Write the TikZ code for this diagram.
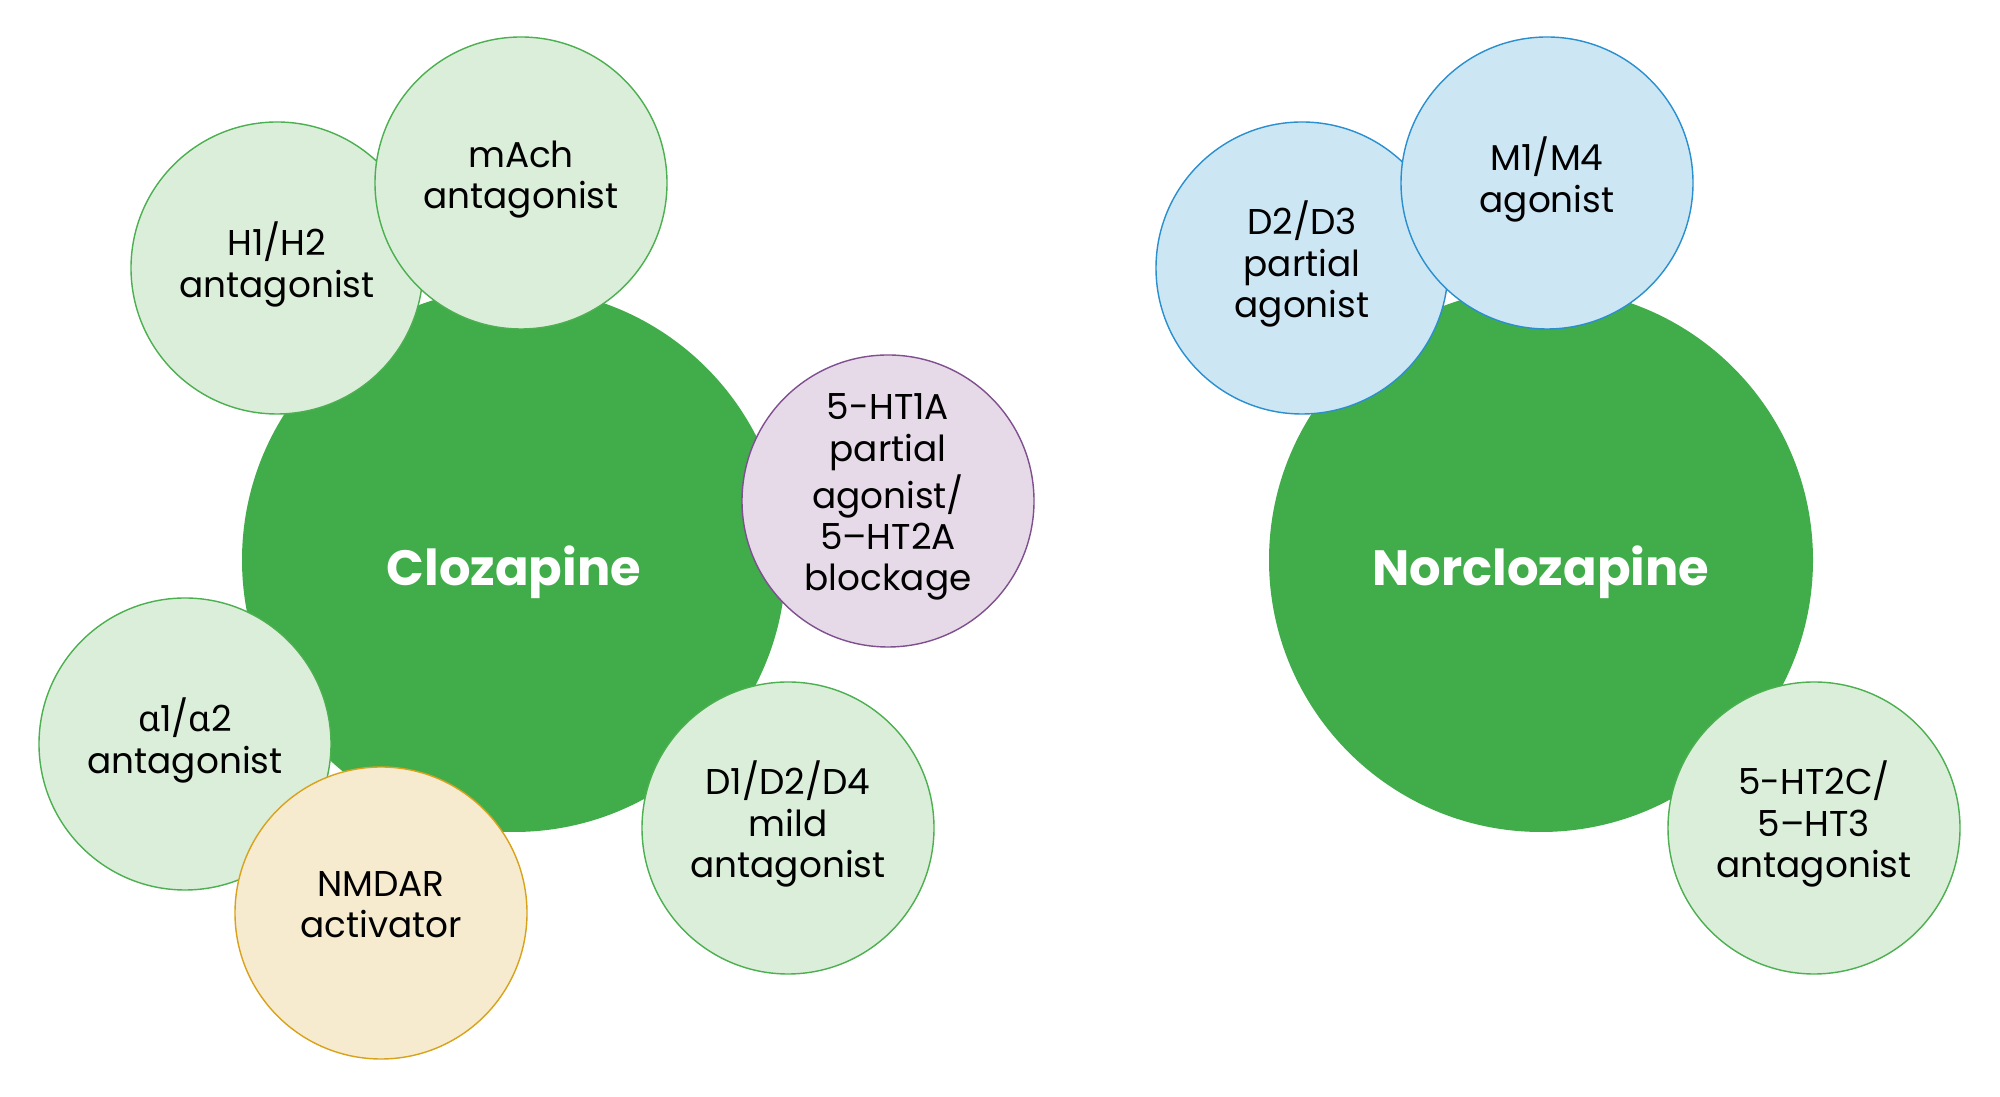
\documentclass[tikz,border=0pt]{standalone}
\usepackage{fontspec}
\setmainfont{Poppins}
\newfontfamily\greekfont{Noto Sans}
\usetikzlibrary{positioning,shapes}
\definecolor{mainGreen}{HTML}{41AD4A}
\definecolor{lightGreen}{HTML}{DAEEDA}
\definecolor{lineGreen}{HTML}{4CAF50}
\definecolor{lightPurple}{HTML}{E6DAE8}
\definecolor{linePurple}{HTML}{7F4F8F}
\definecolor{lightYellow}{HTML}{F6EACF}
\definecolor{lineYellow}{HTML}{D9A21B}
\definecolor{lightBlue}{HTML}{CCE6F3}
\definecolor{lineBlue}{HTML}{2A8FCF}
\newcommand{\drug}[1]{\raisebox{-0.12cm}[\height][\depth]{#1}}
\tikzset{
    main_circle/.style={
        circle,
        fill=mainGreen,
        text=white,
        inner sep=0pt,
        minimum size=5.44cm,
        font=\fontsize{14.1}{16}\selectfont\bfseries
    },
    receptor/.style={
        draw,
        circle,
        line width=0.4pt,
        inner sep=0pt,
        minimum size=2.92cm,
        align=center,
        text depth=0.17cm,
        font=\fontsize{10.2}{11.8}\selectfont
    },
    green_circle/.style={
        receptor,
        draw=lineGreen,
        fill=lightGreen
    },
    purple_circle/.style={
        receptor,
        draw=linePurple,
        fill=lightPurple
    },
    yellow_circle/.style={
        receptor,
        draw=lineYellow,
        fill=lightYellow
    },
    blue_circle/.style={
        receptor,
        draw=lineBlue,
        fill=lightBlue
    },
}
\begin{document}
\begin{tikzpicture}
        \useasboundingbox (0,0) rectangle (20,10.97);
        % main circles
        \node[main_circle] (cloz) at (5.14,5.37) {\drug{Clozapine}};
        \node[main_circle] (norcloz) at (15.41,5.37) {\drug{Norclozapine}};

        % clozapine receptors
        \node[green_circle] (h1h2) at (2.77,8.29) {H1/H2\\antagonist};
        \node[green_circle] (mach) at (5.21,9.14) {mAch\\antagonist};
        \node[purple_circle] (ht1a) at (8.88,5.96) {5-HT1A\\partial\\agonist/\\5–HT2A\\blockage};
        \node[green_circle] (alpha) at (1.85,3.53) {{\greekfont α}1/{\greekfont α}2\\antagonist};
        \node[yellow_circle] (nmdar) at (3.81,1.84) {NMDAR\\activator};
        \node[green_circle] (dopa) at (7.88,2.69) {D1/D2/D4\\mild\\antagonist};

        % norclozapine receptors
        \node[blue_circle] (d2d3) at (13.02,8.29) {D2/D3\\partial\\agonist};
        \node[blue_circle] (m1m4) at (15.47,9.14) {M1/M4\\agonist};
        \node[green_circle] (ht2c) at (18.14,2.69) {5-HT2C/\\5–HT3\\antagonist};
    \end{tikzpicture}
\end{document}
